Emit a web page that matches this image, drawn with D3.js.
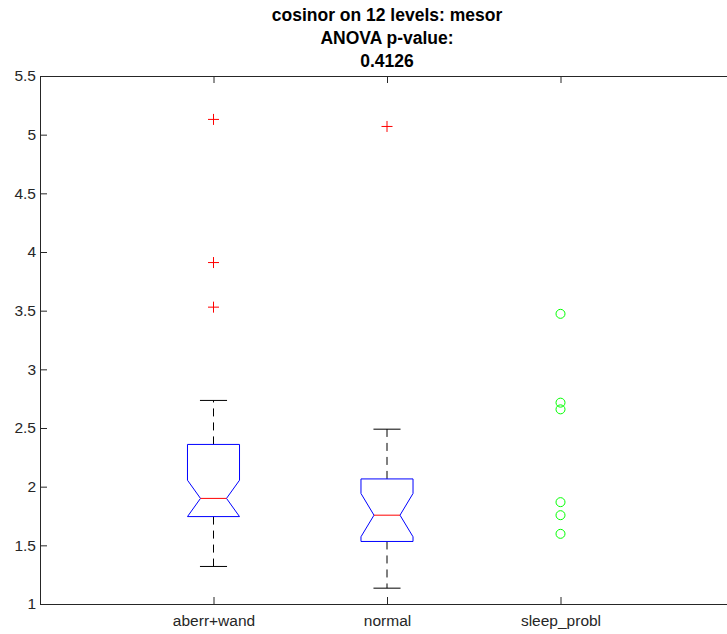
<!DOCTYPE html>
<html lang="en">
<head>
    <meta charset="UTF-8">
    <title>cosinor on 12 levels: mesor</title>
    <script src="https://d3js.org/d3.v7.min.js"></script>
    <style>
        html, body { margin: 0; padding: 0; background: #fff; overflow: hidden; }
        svg { display: block; font-family: "Liberation Sans", Arial, sans-serif; }
        .axis path, .axis line { stroke: #262626; }
        .axis text { fill: #262626; font-size: 15.5px; }
    </style>
</head>
<body>
    <div id="chart"></div>
    <script>
        // groups and box statistics
        const groups = ["aberr+wand", "normal", "sleep_probl"];
        const yTicks = [1, 1.5, 2, 2.5, 3, 3.5, 4, 4.5, 5, 5.5];
        const titleLines = ["cosinor on 12 levels: mesor", "ANOVA p-value:", "0.4126"];

        // only the first two groups get a box
        const boxGroups = ["aberr+wand", "normal"];
        const whiskerLow = [1.32, 1.135];
        const q1 = [1.745, 1.533];
        const notchLow = [1.745, 1.573];
        const median = [1.90, 1.757];
        const notchHigh = [2.055, 1.942];
        const q3 = [2.36, 2.066];
        const whiskerHigh = [2.735, 2.49];
        const outliers = [[5.13, 3.91, 3.53], [5.07]];

        // sleep_probl is drawn as single points
        const sleepPoints = [3.473, 2.716, 2.659, 1.868, 1.757, 1.598];

        const width = 727, height = 634;
        const margin = { top: 76, left: 40, bottom: 30 };

        const svg = d3.select("#chart").append("svg")
            .attr("width", width)
            .attr("height", height);

        // axes run past the right edge of the window, like the original
        const x = d3.scaleLinear().domain([0, 4]).range([margin.left, margin.left + 4 * 173.5]);
        const y = d3.scaleLinear().domain([1, 5.5]).range([height - margin.bottom, margin.top]);

        // axes (box on, ticks inward)
        svg.append("g").attr("class", "axis")
            .attr("transform", `translate(0,${y(1)})`)
            .call(d3.axisBottom(x).tickValues([1, 2, 3]).tickSize(-7).tickSizeOuter(0).tickPadding(11)
                .tickFormat(d => groups[d - 1]));

        svg.append("g").attr("class", "axis")
            .attr("transform", `translate(0,${y(5.5)})`)
            .call(d3.axisTop(x).tickValues([1, 2, 3]).tickSize(-7).tickSizeOuter(0).tickFormat(""));

        svg.append("g").attr("class", "axis")
            .attr("transform", `translate(${x(0)},0)`)
            .call(d3.axisLeft(y).tickValues(yTicks).tickSize(-7).tickSizeOuter(0).tickPadding(4)
                .tickFormat(d3.format("")));

        svg.append("g").attr("class", "axis")
            .attr("transform", `translate(${x(4)},0)`)
            .call(d3.axisRight(y).tickValues(yTicks).tickSize(-7).tickSizeOuter(0).tickFormat(""));

        // title
        svg.append("text")
            .attr("x", (x(0) + x(4)) / 2)
            .attr("y", 21)
            .attr("text-anchor", "middle")
            .attr("font-weight", "bold")
            .attr("font-size", "17.5px")
            .attr("fill", "#000")
            .selectAll("tspan")
            .data(titleLines)
            .enter()
            .append("tspan")
            .attr("x", (x(0) + x(4)) / 2)
            .attr("dy", (d, i) => i === 0 ? 0 : 23)
            .text(d => d);

        const halfBox = 0.15, halfNotch = 0.075, halfCap = 0.078;

        boxGroups.forEach((g, i) => {
            const c = groups.indexOf(g) + 1;
            const grp = svg.append("g");

            // dashed whiskers
            grp.append("line")
                .attr("x1", x(c)).attr("x2", x(c))
                .attr("y1", y(q3[i])).attr("y2", y(whiskerHigh[i]))
                .attr("stroke", "#000").attr("stroke-dasharray", "8,6");
            grp.append("line")
                .attr("x1", x(c)).attr("x2", x(c))
                .attr("y1", y(q1[i])).attr("y2", y(whiskerLow[i]))
                .attr("stroke", "#000").attr("stroke-dasharray", "8,6");

            // caps
            [whiskerHigh[i], whiskerLow[i]].forEach(v => {
                grp.append("line")
                    .attr("x1", x(c - halfCap)).attr("x2", x(c + halfCap))
                    .attr("y1", y(v)).attr("y2", y(v))
                    .attr("stroke", "#000");
            });

            // notched box
            const pts = [
                [c - halfBox, q3[i]], [c + halfBox, q3[i]],
                [c + halfBox, notchHigh[i]], [c + halfNotch, median[i]],
                [c + halfBox, notchLow[i]], [c + halfBox, q1[i]],
                [c - halfBox, q1[i]], [c - halfBox, notchLow[i]],
                [c - halfNotch, median[i]], [c - halfBox, notchHigh[i]]
            ];
            grp.append("path")
                .attr("d", d3.line().x(d => x(d[0])).y(d => y(d[1]))(pts) + "Z")
                .attr("fill", "none")
                .attr("stroke", "#0000ff");

            // median
            grp.append("line")
                .attr("x1", x(c - halfNotch)).attr("x2", x(c + halfNotch))
                .attr("y1", y(median[i])).attr("y2", y(median[i]))
                .attr("stroke", "#ff0000");

            // outliers as red plus signs
            outliers[i].forEach(v => {
                grp.append("path")
                    .attr("d", `M${x(c) - 5.5},${y(v)}h11M${x(c)},${y(v) - 5.5}v11`)
                    .attr("stroke", "#ff0000");
            });
        });

        // green circles for sleep_probl
        const cs = groups.indexOf("sleep_probl") + 1;
        svg.selectAll(".sleep")
            .data(sleepPoints)
            .enter()
            .append("circle")
            .attr("class", "sleep")
            .attr("cx", x(cs))
            .attr("cy", d => y(d))
            .attr("r", 4.5)
            .attr("fill", "none")
            .attr("stroke", "#00ff00");
    </script>
</body>
</html>
